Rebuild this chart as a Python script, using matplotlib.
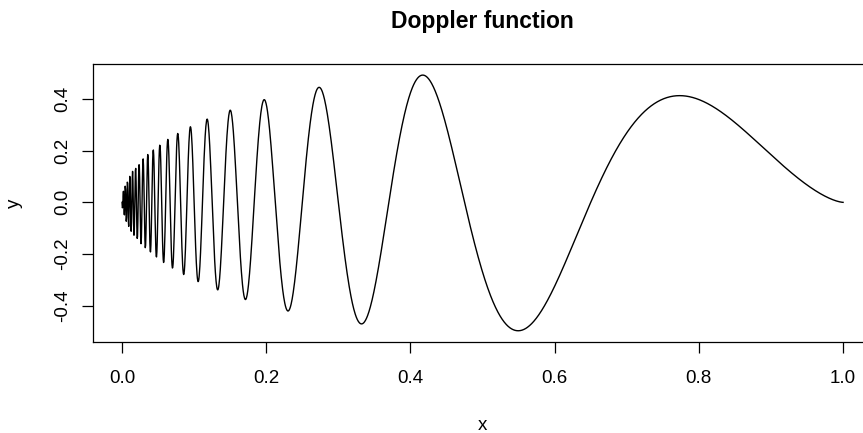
import numpy as np
import matplotlib.pyplot as plt

plt.rcParams['font.family'] = ['Liberation Sans', 'DejaVu Sans']

# Doppler test function sampled on an even grid over [0, 1]
eps = 0.05
x = np.linspace(0.0, 1.0, 2048)
y = np.sqrt(x * (1 - x)) * np.sin(2 * np.pi * (1 + eps) / (x + eps))

xticks = [0.0, 0.2, 0.4, 0.6, 0.8, 1.0]
yticks = [-0.4, -0.2, 0.0, 0.2, 0.4]

fig = plt.figure(figsize=(8.63, 4.33), dpi=100)
ax = fig.add_axes([0.1078, 0.2102, 0.9027, 0.642])

ax.plot(x, y, color='black', linewidth=1.0)

ax.set_xlim(-0.0402, 1.0402)
ax.set_ylim(-0.541, 0.536)
ax.set_xticks(xticks)
ax.set_xticklabels([f"{t:.1f}" for t in xticks])
ax.set_yticks(yticks)
ax.set_yticklabels([f"{t:.1f}" for t in yticks], rotation=90, va='center')

for side in ['top', 'bottom', 'left', 'right']:
    ax.spines[side].set_linewidth(0.9)
ax.tick_params(direction='out', length=8, width=0.9, labelsize=13.5, colors='black')
ax.tick_params(axis='x', pad=12)
ax.tick_params(axis='y', pad=8)

ax.set_title('Doppler function', fontsize=16.5, fontweight='bold', pad=26)
ax.set_xlabel('x', fontsize=13.5, labelpad=22)
ax.set_ylabel('y', fontsize=13.5, labelpad=22)

fig.savefig('out.png', dpi=100)
